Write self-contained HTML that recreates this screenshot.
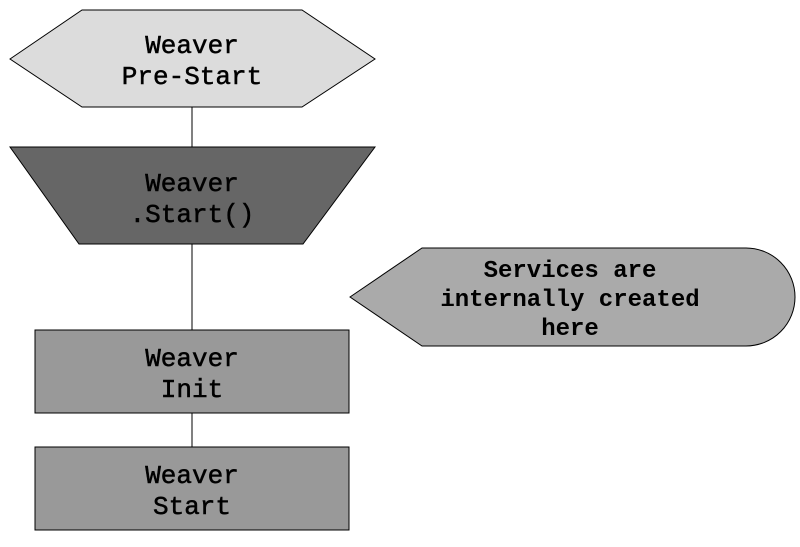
<!DOCTYPE html>
<html><head><style>body{margin:0;background:#fff}</style></head><body>
<svg width="800" height="542" xmlns="http://www.w3.org/2000/svg" font-family="'Liberation Mono', monospace">
<g stroke="#000" stroke-width="1">
<line x1="192" y1="107" x2="192" y2="147"/>
<line x1="192" y1="244" x2="192" y2="330"/>
<line x1="192" y1="413" x2="192" y2="447"/>
<polygon points="10,59 82,10 302,10 375,59 302,107 82,107" fill="#dcdcdc"/>
<polygon points="10,147 375,147 303,244 79,244" fill="#666666"/>
<rect x="35" y="330" width="314" height="83" fill="#999999"/>
<rect x="35" y="447" width="314" height="83" fill="#999999"/>
<path d="M350,297 L422,248 L746,248 A49,49 0 0 1 746,346 L422,346 Z" fill="#aaaaaa"/>
</g>
<g font-size="26" text-anchor="middle" fill="#000" stroke="#000" stroke-width="0.5">
<text x="192" y="53">Weaver</text><text x="192" y="84">Pre-Start</text>
<text x="192" y="191">Weaver</text><text x="192" y="222">.Start()</text>
<text x="192" y="366">Weaver</text><text x="192" y="397">Init</text>
<text x="192" y="483">Weaver</text><text x="192" y="514">Start</text>
</g>
<g font-size="24" font-weight="bold" text-anchor="middle" fill="#000">
<text x="570" y="277">Services are</text>
<text x="570" y="306">internally created</text>
<text x="570" y="335">here</text>
</g>
</svg>
</body></html>
